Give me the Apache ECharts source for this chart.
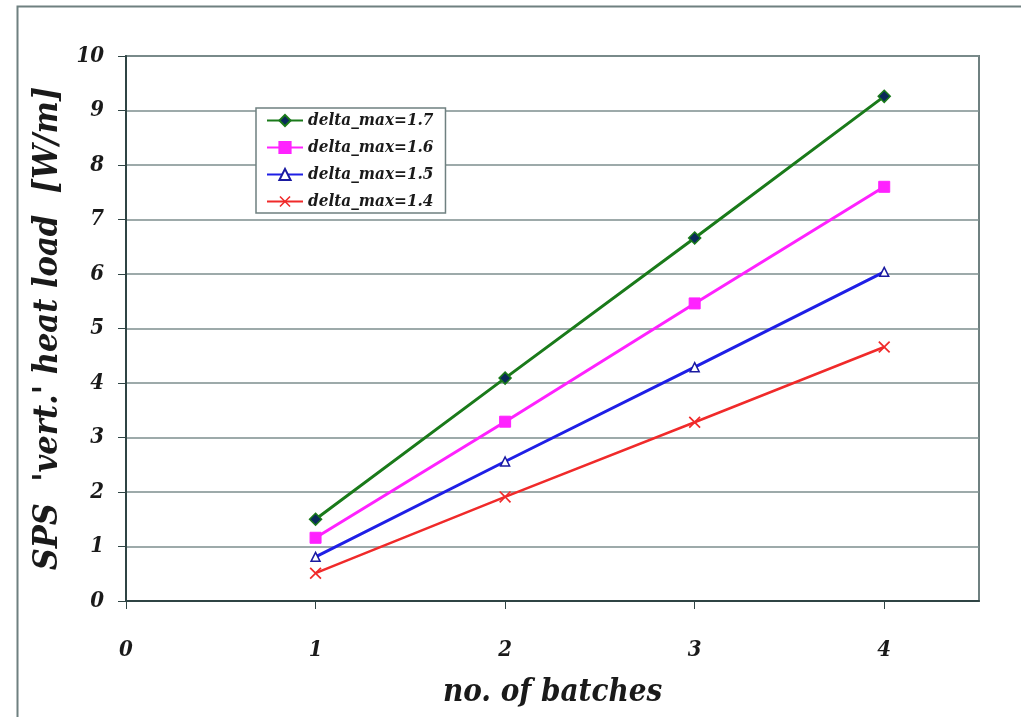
<!DOCTYPE html>
<html>
<head>
<meta charset="utf-8">
<title>SPS vertical heat load vs number of batches</title>
<script src="https://cdn.jsdelivr.net/npm/echarts@6/dist/echarts.min.js"></script>
<style>
  html, body { margin: 0; padding: 0; background: #ffffff; }
  #chart { width: 1021px; height: 717px; }
</style>
</head>
<body>
<div id="chart"></div>
<script>
// Number of batches on the x axis
const batches = [1, 2, 3, 4];

// Heat load [W/m] for each delta_max setting
const load17 = [1.50, 4.09, 6.66, 9.26];
const load16 = [1.16, 3.29, 5.46, 7.60];
const load15 = [0.81, 2.56, 4.29, 6.04];
const load14 = [0.51, 1.91, 3.28, 4.66];

const seriesNames = ['delta_max=1.7', 'delta_max=1.6', 'delta_max=1.5', 'delta_max=1.4'];

// Tick labels
const xTickLabels = ['0', '1', '2', '3', '4'];
const yTickLabels = ['0', '1', '2', '3', '4', '5', '6', '7', '8', '9', '10'];

const FONT = '"DejaVu Serif Condensed", "Liberation Serif", serif';

function pairs(values) {
  return batches.map((b, i) => [b, values[i]]);
}

// Filled X-shaped symbol for the 1.4 series
const crossPath = 'path://M0,1 L1,0 L5,4 L9,0 L10,1 L6,5 L10,9 L9,10 L5,6 L1,10 L0,9 L4,5 Z';

const chart = echarts.init(document.getElementById('chart'), null, { renderer: 'canvas' });

const option = {
  backgroundColor: '#ffffff',
  animation: false,
  graphic: [
    {
      type: 'rect',
      left: 15, top: 4,
      shape: { width: 1020, height: 730 },
      style: { fill: 'none', stroke: '#6f8080', lineWidth: 2 },
      z: -1
    }
  ],
  grid: {
    left: 126, top: 56, right: 42, bottom: 116,
    show: true,
    borderColor: '#6f8080',
    borderWidth: 2,
    backgroundColor: 'transparent'
  },
  legend: {
    orient: 'vertical',
    left: 256, top: 108,
    itemWidth: 36, itemHeight: 14,
    itemGap: 10,
    padding: [4, 12, 3, 10],
    borderColor: '#6f8080',
    borderWidth: 1.5,
    backgroundColor: '#ffffff',
    data: seriesNames,
    textStyle: {
      fontFamily: FONT, fontWeight: 'bold', fontStyle: 'italic',
      fontSize: 17, color: '#1a1a1a'
    }
  },
  xAxis: {
    type: 'value',
    min: 0, max: 4.5, interval: 1,
    name: 'no. of batches',
    nameLocation: 'middle',
    nameGap: 76,
    nameTextStyle: {
      fontFamily: FONT, fontWeight: 'bold', fontStyle: 'italic',
      fontSize: 31, color: '#1a1a1a'
    },
    axisLine: { show: true, onZero: false, lineStyle: { color: '#2f4444', width: 2 } },
    axisTick: { show: true, length: 8, lineStyle: { color: '#2f4444', width: 1 } },
    axisLabel: {
      margin: 38,
      showMaxLabel: false,
      fontFamily: FONT, fontWeight: 'bold', fontStyle: 'italic',
      fontSize: 22, color: '#1a1a1a',
      formatter: v => (Number.isInteger(v) && xTickLabels[v] !== undefined) ? xTickLabels[v] : ''
    },
    splitLine: { show: false }
  },
  yAxis: {
    type: 'value',
    min: 0, max: 10, interval: 1,
    name: "SPS  'vert.' heat load  [W/m]",
    nameLocation: 'middle',
    nameGap: 58,
    nameRotate: 90,
    nameTextStyle: {
      fontFamily: FONT, fontWeight: 'bold', fontStyle: 'italic',
      fontSize: 34, color: '#1a1a1a'
    },
    axisLine: { show: true, lineStyle: { color: '#2f4444', width: 2 } },
    axisTick: { show: true, length: 8, lineStyle: { color: '#2f4444', width: 1 } },
    axisLabel: {
      margin: 22,
      fontFamily: FONT, fontWeight: 'bold', fontStyle: 'italic',
      fontSize: 22, color: '#1a1a1a',
      formatter: v => (Number.isInteger(v) && yTickLabels[v] !== undefined) ? yTickLabels[v] : ''
    },
    splitLine: { show: true, lineStyle: { color: '#7d8e8e', width: 1.5 } }
  },
  series: [
    {
      name: seriesNames[0], type: 'line', data: pairs(load17),
      symbol: 'diamond', symbolSize: 12,
      lineStyle: { color: '#1a7a1a', width: 3 },
      itemStyle: { color: '#0a2a5a', borderColor: '#1a7a1a', borderWidth: 1.5 },
      z: 5
    },
    {
      name: seriesNames[1], type: 'line', data: pairs(load16),
      symbol: 'rect', symbolSize: 11,
      lineStyle: { color: '#ff22ff', width: 3 },
      itemStyle: { color: '#ff22ff', borderColor: '#ff22ff', borderWidth: 1 },
      z: 4
    },
    {
      name: seriesNames[2], type: 'line', data: pairs(load15),
      symbol: 'triangle', symbolSize: 9,
      lineStyle: { color: '#1f1fe6', width: 3 },
      itemStyle: { color: '#ffffff', borderColor: '#1a1aa0', borderWidth: 1.5 },
      z: 3
    },
    {
      name: seriesNames[3], type: 'line', data: pairs(load14),
      symbol: crossPath, symbolSize: 12,
      lineStyle: { color: '#f02a2a', width: 2.5 },
      itemStyle: { color: '#f02a2a', borderWidth: 0 },
      z: 2
    }
  ]
};

chart.setOption(option);
</script>
</body>
</html>
